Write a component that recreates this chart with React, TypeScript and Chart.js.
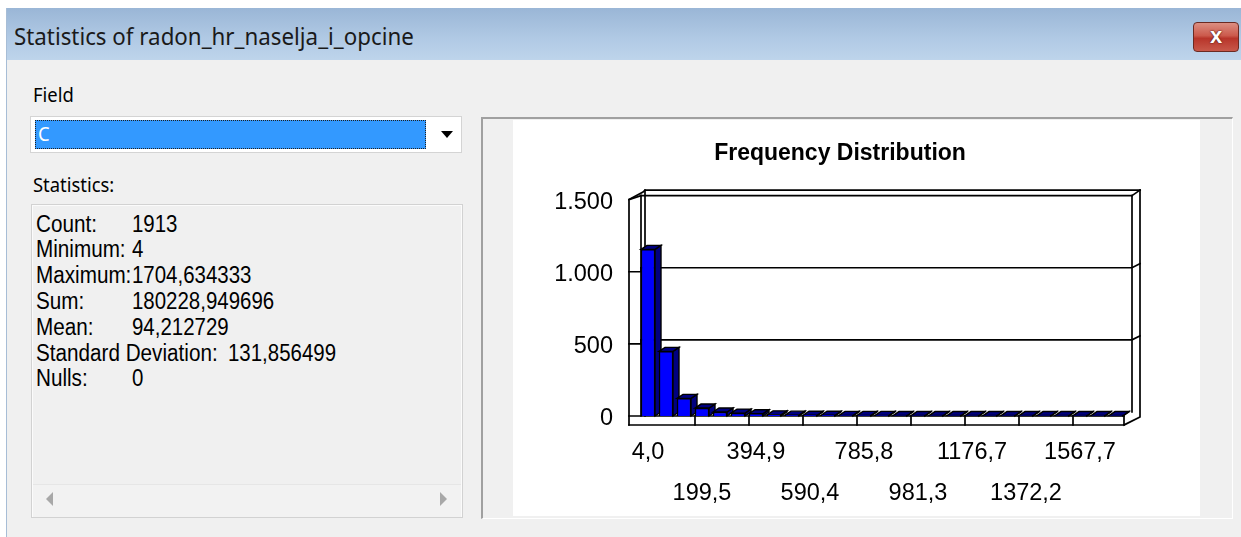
import React, { useEffect, useRef } from 'react';
import { Chart, registerables } from 'chart.js';

Chart.register(...registerables);

// ---------- data ----------
const binLabels = [
  '4,0', '69,2', '134,3', '199,5', '264,6', '329,8', '394,9', '460,1', '525,2',
  '590,4', '655,5', '720,7', '785,8', '851,0', '916,1', '981,3', '1046,4', '1111,6',
  '1176,7', '1241,9', '1307,1', '1372,2', '1437,4', '1502,5', '1567,7', '1632,8', '1698,0',
];
const frequencies = [
  1155, 448, 122, 55, 28, 20, 16, 8, 6, 5, 5, 4, 4, 4,
  3, 3, 3, 3, 3, 3, 3, 3, 3, 3, 3, 3, 3,
];
const yTickValues = [0, 500, 1000, 1500];
const yTickLabels = ['0', '500', '1.000', '1.500'];
const LABEL_EVERY = 3;

const statLabels = ['Count:', 'Minimum:', 'Maximum:', 'Sum:', 'Mean:', 'Standard Deviation:', 'Nulls:'];
const statValues = ['1913', '4', '1704,634333', '180228,949696', '94,212729', '131,856499', '0'];

const dialogTitle = 'Statistics of radon_hr_naselja_i_opcine';
const chartTitle = 'Frequency Distribution';
const fieldValue = 'C';

const CHART_FONT = '"Liberation Sans", Arial, sans-serif';
const UI_FONT = '"Noto Sans", "Open Sans", sans-serif';
const STAT_FONT = '"Liberation Sans", Arial, sans-serif';

// ---------- 3D frame + 3D bar faces ----------
const frame3d = {
  id: 'frame3d',
  beforeDatasetsDraw(chart: any) {
    const { ctx, chartArea } = chart;
    const { left: L, right: R, top: T, bottom: B } = chartArea;
    const y = chart.scales.y;
    const n = chart.data.labels.length;
    const pitch = (R - L) / n;
    const line = (pts: number[][]) => {
      ctx.beginPath();
      ctx.moveTo(pts[0][0], pts[0][1]);
      for (let i = 1; i < pts.length; i++) ctx.lineTo(pts[i][0], pts[i][1]);
      ctx.stroke();
    };
    ctx.save();
    ctx.strokeStyle = '#000';
    ctx.lineWidth = 1.7;
    ctx.lineCap = 'square';
    const xl = L - 10;
    const xb = L + 2;
    const xb2 = L + 6;
    const yTo = T - 9.5;
    const yTi = T - 4;
    const xRi = R + 7;
    const xRo = R + 15;
    const yF = B + 9;
    const xF = R - 1;
    // left wall and top
    line([[xl, yF], [xl, T], [xb2 - 2, yTo + 2], [xb2, yTo], [xRo, yTo]]);
    line([[xl, T], [xb, yTi]]);
    line([[xb, yTi], [xb, B]]);
    line([[xb2, yTo], [xb2, B]]);
    line([[xb, yTi], [xRi, yTi]]);
    // right edges
    line([[xRi, yTi], [xRi, B - 4]]);
    line([[xRo, yTo], [xRo, B + 1], [xF, yF]]);
    line([[xRi, yTi], [xRo, yTo]]);
    // floor
    line([[xl, B], [xF, B]]);
    line([[xl, yF], [xF, yF], [xF, B]]);
    for (let k = LABEL_EVERY; k < n; k += LABEL_EVERY) {
      const xt = L + pitch * k + 2;
      line([[xt, B], [xt, yF]]);
    }
    // gridlines (back wall) and left wall ticks
    yTickValues.forEach((v) => {
      if (v === yTickValues[0] || v === yTickValues[yTickValues.length - 1]) return;
      const yf = y.getPixelForValue(v);
      const yb = yf - 4;
      line([[xl, yf], [xb, yf], [xb, yb]]);
      line([[xb, yb], [xRi, yb], [xRo, yb - 4]]);
    });
    // 3D faces of the bars
    const meta = chart.getDatasetMeta(0);
    const dx = 6;
    const dy = 4;
    ctx.lineWidth = 1.4;
    ctx.fillStyle = '#000080';
    meta.data.forEach((bar: any) => {
      const p = bar.getProps(['x', 'y', 'base', 'width'], true);
      const bl = p.x - p.width / 2;
      const br = p.x + p.width / 2;
      const top = Math.min(p.y, p.base);
      const base = Math.max(p.y, p.base);
      ctx.beginPath();
      ctx.moveTo(br, top);
      ctx.lineTo(br + dx, top - dy);
      ctx.lineTo(br + dx, base - dy);
      ctx.lineTo(br, base);
      ctx.closePath();
      ctx.fill();
      ctx.stroke();
      ctx.beginPath();
      ctx.moveTo(bl, top);
      ctx.lineTo(bl + dx, top - dy);
      ctx.lineTo(br + dx, top - dy);
      ctx.lineTo(br, top);
      ctx.closePath();
      ctx.fill();
      ctx.stroke();
    });
    ctx.restore();
  },
};

const Txt = ({ x, y, size, family, text, color = '#000', sx = 1, weight = 400 }: any) => (
  <div
    style={{
      position: 'absolute',
      left: x,
      top: y,
      fontSize: size,
      fontFamily: family,
      fontWeight: weight,
      color,
      whiteSpace: 'pre',
      lineHeight: 1,
      transform: `scaleX(${sx})`,
      transformOrigin: '0 0',
    }}
  >
    {text}
  </div>
);

export default function App() {
  const ref = useRef<HTMLCanvasElement>(null);

  useEffect(() => {
    document.body.style.margin = '0';
    const chart = new Chart(ref.current as HTMLCanvasElement, {
      type: 'bar',
      data: {
        labels: binLabels,
        datasets: [
          {
            data: frequencies,
            backgroundColor: '#0000ff',
            borderColor: '#000000',
            borderWidth: 1.5,
            barThickness: 14,
          },
        ],
      },
      options: {
        animation: false,
        responsive: false,
        maintainAspectRatio: false,
        layout: { padding: { left: 42, right: 75, top: 0, bottom: 0 } },
        plugins: {
          legend: { display: false },
          tooltip: { enabled: false },
          title: {
            display: true,
            text: chartTitle,
            color: '#000',
            font: { family: CHART_FONT, size: 23, weight: 'bold', lineHeight: 1.2 },
            padding: { top: 20, bottom: 32 },
          },
        },
        scales: {
          x: {
            grid: { display: false, drawTicks: false },
            border: { display: false },
            ticks: {
              autoSkip: false,
              maxRotation: 0,
              minRotation: 0,
              padding: 16.5,
              color: '#000',
              font: { family: CHART_FONT, size: 23.5, lineHeight: 41 / 23.5 },
              callback: (_v: any, i: number) => {
                if (i % LABEL_EVERY !== 0) return '';
                return (i / LABEL_EVERY) % 2 === 1 ? ['', binLabels[i]] : binLabels[i];
              },
            },
            afterFit: (s: any) => {
              s.height = 100;
            },
          },
          y: {
            min: 0,
            max: 1500,
            grid: { display: false, drawTicks: false },
            border: { display: false },
            ticks: {
              stepSize: 500,
              padding: 26,
              labelOffset: 3,
              color: '#000',
              font: { family: CHART_FONT, size: 23.5 },
              callback: (v: any) => {
                const idx = yTickValues.indexOf(Number(v));
                return idx >= 0 ? yTickLabels[idx] : '';
              },
            },
            afterFit: (s: any) => {
              s.width = 84;
            },
          },
        },
      } as any,
      plugins: [frame3d],
    });
    return () => chart.destroy();
  }, []);

  const rowTop = 212.5;
  const rowStep = 25.8;

  return (
    <div
      style={{
        position: 'absolute',
        left: 0,
        top: 0,
        width: 1241,
        height: 537,
        overflow: 'hidden',
        background: '#ffffff',
      }}
    >
      {/* dialog body */}
      <div
        style={{
          position: 'absolute',
          left: 6,
          top: 8,
          width: 1240,
          height: 530,
          background: '#f0f0f0',
          borderLeft: '1px solid #a7bdd6',
          boxSizing: 'border-box',
        }}
      />
      {/* title bar */}
      <div
        style={{
          position: 'absolute',
          left: 7,
          top: 8,
          width: 1234,
          height: 52,
          background: 'linear-gradient(to bottom, #9ab6d6 0%, #b1cae5 60%, #bed4eb 100%)',
        }}
      />
      <Txt x={14} y={23.5} size={24} family={UI_FONT} text={dialogTitle} color="#1a1a1a" sx={0.93} />
      {/* close button */}
      <div
        style={{
          position: 'absolute',
          left: 1193,
          top: 22,
          width: 46,
          height: 30,
          boxSizing: 'border-box',
          border: '1px solid #6b2a22',
          borderRadius: 4,
          background: 'linear-gradient(to bottom, #dc8f82 0%, #cc5a4c 45%, #b8352a 55%, #c8584a 100%)',
          color: '#fff',
          fontFamily: CHART_FONT,
          fontWeight: 700,
          fontSize: 22,
          lineHeight: '26px',
          textAlign: 'center',
          textShadow: '0 0 2px #5a1a12, 0 0 1px #5a1a12',
        }}
      >
        x
      </div>

      {/* Field */}
      <Txt x={33} y={85} size={20} family={UI_FONT} text="Field" sx={0.92} />
      <div
        style={{
          position: 'absolute',
          left: 30,
          top: 116,
          width: 432,
          height: 37,
          boxSizing: 'border-box',
          background: '#ffffff',
          border: '1px solid #d4d4d4',
        }}
      />
      <div
        style={{
          position: 'absolute',
          left: 35,
          top: 120,
          width: 391,
          height: 29,
          boxSizing: 'border-box',
          background: '#3399ff',
          border: '1px dotted #202020',
        }}
      />
      <Txt x={38} y={124} size={20} family={UI_FONT} text={fieldValue} color="#ffffff" sx={0.92} />
      <div
        style={{
          position: 'absolute',
          left: 441,
          top: 131,
          width: 0,
          height: 0,
          borderLeft: '6px solid transparent',
          borderRight: '6px solid transparent',
          borderTop: '7px solid #000',
        }}
      />

      {/* Statistics */}
      <Txt x={33} y={175} size={20} family={UI_FONT} text="Statistics:" sx={0.92} />
      <div
        style={{
          position: 'absolute',
          left: 31,
          top: 204,
          width: 432,
          height: 314,
          boxSizing: 'border-box',
          background: '#f0f0f0',
          border: '1px solid #d2d2d2',
          boxShadow: 'inset 0 0 0 1px #fbfbfb',
        }}
      />
      {statLabels.map((lab, i) => (
        <Txt key={'l' + i} x={36} y={rowTop + i * rowStep} size={23.5} family={STAT_FONT} text={lab} sx={0.88} />
      ))}
      {statValues.map((val, i) => (
        <Txt
          key={'v' + i}
          x={statLabels[i].length > 10 ? 228 : 132}
          y={rowTop + i * rowStep}
          size={23.5}
          family={STAT_FONT}
          text={val}
          sx={0.87}
        />
      ))}
      {/* horizontal scrollbar */}
      <div
        style={{
          position: 'absolute',
          left: 33,
          top: 484,
          width: 428,
          height: 32,
          background: '#f2f2f2',
          borderTop: '1px solid #e6e6e6',
        }}
      />
      <div
        style={{
          position: 'absolute',
          left: 46,
          top: 492,
          width: 0,
          height: 0,
          borderTop: '7px solid transparent',
          borderBottom: '7px solid transparent',
          borderRight: '7px solid #a8a8a8',
        }}
      />
      <div
        style={{
          position: 'absolute',
          left: 440,
          top: 492,
          width: 0,
          height: 0,
          borderTop: '7px solid transparent',
          borderBottom: '7px solid transparent',
          borderLeft: '7px solid #a8a8a8',
        }}
      />

      {/* chart panel */}
      <div
        style={{
          position: 'absolute',
          left: 481,
          top: 117,
          width: 752,
          height: 402,
          boxSizing: 'border-box',
          background: '#f0f0f0',
          borderTop: '2px solid #a0a0a0',
          borderLeft: '2px solid #a0a0a0',
          borderRight: '1px solid #ffffff',
          borderBottom: '1px solid #ffffff',
        }}
      />
      <canvas
        ref={ref}
        width={687}
        height={396}
        style={{
          position: 'absolute',
          left: 513,
          top: 120,
          width: 687,
          height: 396,
          background: '#ffffff',
          display: 'block',
        }}
      />
    </div>
  );
}
